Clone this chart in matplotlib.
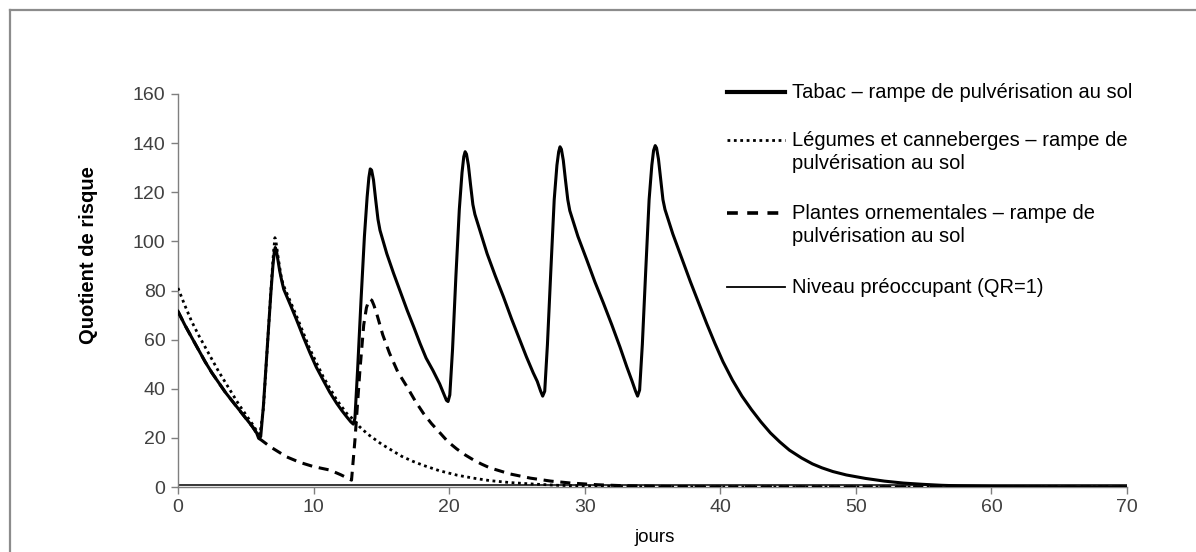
import matplotlib
matplotlib.use("Agg")
import matplotlib.pyplot as plt
from matplotlib.lines import Line2D

plt.rcParams['font.family'] = ['Liberation Sans', 'DejaVu Sans']

# Quotient de risque (QR) over time, by crop scenario
days_tabac = [0, 0.5, 1, 1.5, 2, 2.5, 3, 3.5, 4, 4.5, 5, 5.5, 5.8, 5.95, 6.1,
              6.3, 6.6, 6.85, 7.0, 7.1, 7.17, 7.25, 7.35, 7.5, 7.65, 7.8, 8.3, 8.75, 9.25, 9.74, 10.2, 10.7,
              11.2, 11.7, 12.1, 12.44, 12.75, 12.93, 13.05,
              13.25, 13.5, 13.75, 13.95, 14.08, 14.18, 14.28, 14.42, 14.58, 14.75, 14.9, 15.4, 15.9, 16.4, 16.9,
              17.4, 17.85, 18.3, 18.8, 19.3, 19.6, 19.8, 19.92, 20.05,
              20.25, 20.5, 20.75, 20.95, 21.08, 21.18, 21.28, 21.42, 21.58, 21.75, 21.9, 22.35, 22.8, 23.4, 24.0,
              24.6, 25.2, 25.7, 26.2, 26.5, 26.75, 26.9, 27.05,
              27.25, 27.5, 27.75, 27.95, 28.08, 28.18, 28.28, 28.42, 28.58, 28.75, 28.9, 29.5, 30.15, 30.75, 31.37,
              32.0, 32.6, 33.1, 33.5, 33.75, 33.9, 34.05,
              34.25, 34.5, 34.75, 34.95, 35.08, 35.2, 35.3, 35.44, 35.6, 35.77, 35.92, 36.5, 37.2, 37.8, 38.4,
              39.0, 39.6, 40.2, 40.9, 41.6, 42.3, 43.0, 43.7, 44.4, 45.1, 46.0, 46.8, 47.5, 48.3, 49.3, 50.7,
              52.1, 53.5, 54.9, 56.3, 57.7, 60, 65, 70]
qr_tabac = [71.5, 66, 61, 56, 51, 46.5, 42.5, 38.5, 35, 31.5, 28, 24.5, 22, 19.8, 20.5,
            33, 58, 79, 90, 95.5, 97.5, 96.5, 93, 88, 84, 80.5, 74, 68, 61, 54.5, 48.8, 43.6,
            38.5, 34.1, 31, 28.6, 26.5, 25.6, 28,
            48, 76, 102, 118, 126, 129.5, 129, 125, 117, 109, 104.5, 95, 87, 79.5, 72,
            65, 58.5, 52.5, 47.5, 42, 38, 35.3, 34.8, 37.5,
            56, 86, 113, 128, 134.5, 136.5, 135.5, 131, 123, 115, 111, 103, 95, 86, 77.5,
            68.5, 60, 53, 46.5, 43, 39, 37, 39,
            58, 88, 117, 131, 136.5, 138.5, 137.5, 133, 125, 117, 112.5, 102, 92.5, 83.5, 75,
            66, 57, 49, 43, 39, 37, 39.5,
            58, 88, 117, 131, 137, 139, 138, 133.5, 125.5, 117, 113, 103, 92.5, 83.5, 75,
            66.5, 58.5, 51, 43.5, 37, 31.5, 26.5, 22, 18.3, 15, 11.8, 9.4, 7.8, 6.3, 4.9, 3.5,
            2.4, 1.6, 1.1, 0.7, 0.45, 0.2, 0.05, 0.01]

days_legumes = [0, 0.5, 1, 1.5, 2, 2.5, 3, 3.5, 4, 4.5, 5, 5.5, 5.9, 6.05,
                6.3, 6.6, 6.9, 7.05, 7.15, 7.25, 7.4, 7.6, 7.75, 8.75, 9.74, 10.7, 11.7, 12.44, 12.93,
                13.4, 14, 15, 15.6, 16.5, 17.3, 18.1, 19.3, 20.6, 21.8, 23, 24.5, 26.2, 28, 30, 32.5, 35, 40, 70]
qr_legumes = [81, 74, 67.5, 62, 57, 52, 47, 42.5, 38, 33.5, 29.5, 25.5, 22, 21.5,
              32, 58, 84, 96, 101.5, 99, 93, 86, 82.5, 69.5, 56, 45, 35.5, 30, 27.5,
              24.5, 21.5, 17.5, 15.5, 12.5, 10.5, 8.8, 6.6, 4.8, 3.6, 2.6, 1.8, 1.2, 0.7, 0.4, 0.2, 0.1, 0.02, 0]

days_ornement = [0, 0.5, 1, 1.5, 2, 2.5, 3, 3.5, 4, 4.5, 5, 5.5, 5.8, 5.95, 6.1,
                 6.8, 8.0, 9.0, 10.0, 11.2, 12.0, 12.44, 12.8,
                 13.05, 13.42, 13.7, 13.9, 14.05, 14.16, 14.3, 14.45, 14.66, 15.1, 15.6, 16.2, 16.87, 17.5, 18.1,
                 18.7, 19.33, 19.9, 20.56, 21.2, 21.8, 22.4, 23.0,
                 24.5, 26.0, 27.5, 29.0, 31.0, 33.0, 36.0, 40.0, 70]
qr_ornement = [71.5, 66, 61, 56, 51, 46.5, 42.5, 38.5, 35, 31.5, 28, 24.5, 22, 19.8, 19.3,
               16.4, 12.3, 10, 8.3, 6.9, 5, 3.8, 2.8,
               19, 47.6, 66, 73, 75.5, 76.5, 76, 74, 70.5, 62, 54.5, 47, 41, 35, 30,
               25.8, 22, 18.5, 15.5, 13, 11, 9.3, 7.8,
               5.3, 3.6, 2.4, 1.6, 0.9, 0.5, 0.2, 0.05, 0]

seuil_qr = 1
x_range = [0, 70]

x_ticks = [0, 10, 20, 30, 40, 50, 60, 70]
y_ticks = [0, 20, 40, 60, 80, 100, 120, 140, 160]

labels = ["Tabac – rampe de pulvérisation au sol",
          "Légumes et canneberges – rampe de\npulvérisation au sol",
          "Plantes ornementales – rampe de\npulvérisation au sol",
          "Niveau préoccupant (QR=1)"]

W, H = 1196, 552
fig = plt.figure(figsize=(W / 100, H / 100), dpi=100)


def fx(px):
    return px / W


def fy(py):
    return 1 - py / H


ax = fig.add_axes([fx(178), fy(487), (1127 - 178) / W, (487 - 94) / H])

lw_main = 2.2
ax.plot(x_range, [seuil_qr, seuil_qr], color='black', lw=1.1, zorder=2)
ax.plot(days_ornement, qr_ornement, color='black', lw=lw_main,
        linestyle=(0, (3.3, 2.2)), zorder=3)
ax.plot(days_legumes, qr_legumes, color='black', lw=2.0,
        linestyle=(0, (1, 1.3)), zorder=3)
ax.plot(days_tabac, qr_tabac, color='black', lw=lw_main, zorder=4,
        solid_joinstyle='round')

ax.set_xlim(0, 70)
ax.set_ylim(0, 160)
ax.set_xticks(x_ticks)
ax.set_yticks(y_ticks)
for side in ('top', 'right'):
    ax.spines[side].set_visible(False)
for side in ('left', 'bottom'):
    ax.spines[side].set_color('#7f7f7f')
    ax.spines[side].set_linewidth(1.0)
ax.tick_params(axis='both', colors='#7f7f7f', labelcolor='#404040',
               labelsize=14, length=5, width=1.0, direction='out')
ax.tick_params(axis='x', pad=4)
ax.tick_params(axis='y', pad=4)
ax.set_facecolor('none')

# axis titles
fig.text(fx(88), fy(255), "Quotient de risque", rotation=90, ha='center',
         va='center', fontsize=14.5, fontweight='bold', color='black')
fig.text(fx(655), fy(537), "jours", ha='center', va='center',
         fontsize=13.5, color='black')

# legend
styles = [dict(lw=3.0, linestyle='-'),
          dict(lw=2.0, linestyle=(0, (1, 1.3))),
          dict(lw=2.6, linestyle=(0, (3.0, 2.6))),
          dict(lw=1.3, linestyle='-')]
rows_y = [92, 140, 213, 287]
for st, lab, ry in zip(styles, labels, rows_y):
    fig.add_artist(Line2D([fx(727), fx(785)], [fy(ry), fy(ry)],
                          color='black', **st))
    fig.text(fx(792), fy(ry - 9), lab, ha='left', va='top', fontsize=14.5,
             color='black', linespacing=1.28)

# outer frame
fig.add_artist(Line2D([fx(9.5), fx(W)], [fy(9.5), fy(9.5)], color='#8c8c8c', lw=1.6))
fig.add_artist(Line2D([fx(9.5), fx(9.5)], [fy(9.5), 0], color='#8c8c8c', lw=1.6))

fig.savefig("out.png", dpi=100, facecolor='white')
